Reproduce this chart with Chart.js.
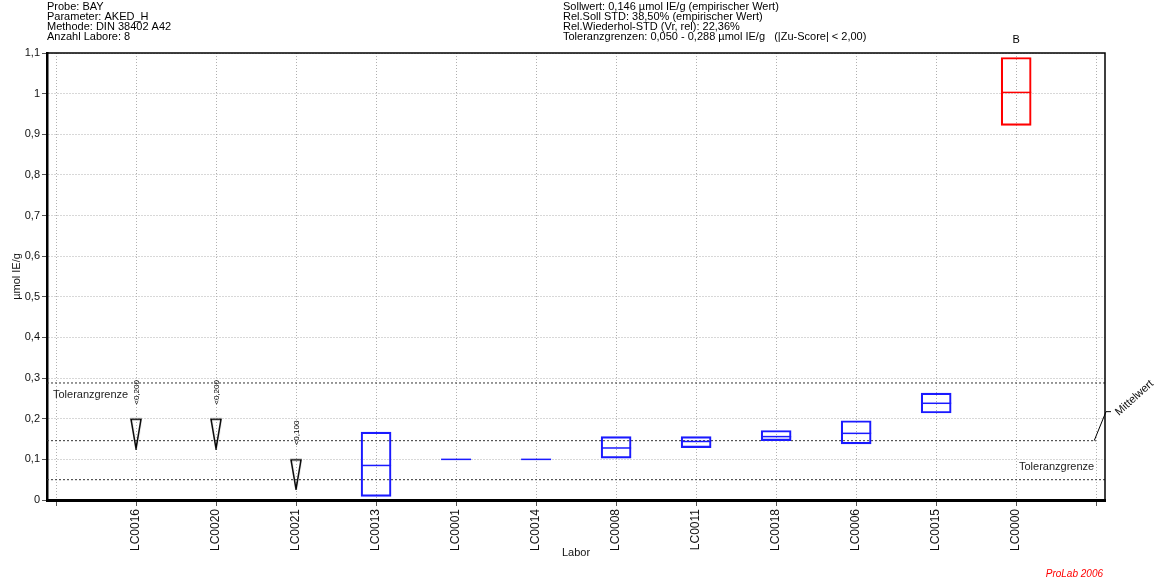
<!DOCTYPE html>
<html>
<head>
<meta charset="utf-8">
<script src="https://cdn.jsdelivr.net/npm/chart.js@4.4.0/dist/chart.umd.min.js"></script>
<style>
  html, body { margin: 0; padding: 0; background: #fff; }
</style>
</head>
<body>
<canvas id="chart" width="1164" height="584"></canvas>
<script>
// labs in plot order
const labs = ['LC0016', 'LC0020', 'LC0021', 'LC0013', 'LC0001', 'LC0014', 'LC0008', 'LC0011', 'LC0018', 'LC0006', 'LC0015', 'LC0000'];
const boxLow  = [null, null, null, 0.009, null, null, 0.103, 0.129, 0.146, 0.138, 0.214, 0.922];
const boxHigh = [null, null, null, 0.167, null, null, 0.156, 0.156, 0.171, 0.195, 0.263, 1.089];
const medians = [null, null, null, 0.085, 0.100, 0.100, 0.128, 0.144, 0.156, 0.164, 0.238, 1.003];
// "< x" results (below detection limit)
const limits = [0.200, 0.200, 0.100, null, null, null, null, null, null, null, null, null];
const outliers = ['LC0000'];

const sollwert = 0.146;
const tolLow = 0.050;
const tolHigh = 0.288;

const headerLeft = ['Probe: BAY', 'Parameter: AKED_H', 'Methode: DIN 38402 A42', 'Anzahl Labore: 8'];
const headerRight = [
  'Sollwert: 0,146 µmol IE/g (empirischer Wert)',
  'Rel.Soll STD: 38,50% (empirischer Wert)',
  'Rel.Wiederhol-STD (Vr, rel): 22,36%',
  'Toleranzgrenzen: 0,050 - 0,288 µmol IE/g   (|Zu-Score| < 2,00)'
];

const X_MIN = -0.1125, X_MAX = 13.11;
const BLUE = '#1a1aff', RED = '#ff0000';
const fmt = v => String(v.toFixed(3)).replace('.', ',');

const colorOf = lab => outliers.includes(lab) ? RED : BLUE;

const boxIdx = labs.map((l, i) => i).filter(i => boxLow[i] != null);
const medIdx = labs.map((l, i) => i).filter(i => medians[i] != null);
const limIdx = labs.map((l, i) => i).filter(i => limits[i] != null);

// tall open triangle used as marker for "<" values, top edge sits on the value
const tri = document.createElement('canvas');
tri.width = 12; tri.height = 62;
const tc = tri.getContext('2d');
tc.strokeStyle = '#000'; tc.lineWidth = 1.5;
tc.beginPath(); tc.moveTo(1, 31.5); tc.lineTo(11, 31.5); tc.lineTo(6, 61); tc.closePath(); tc.stroke();

Chart.defaults.font.family = '"Liberation Sans", Arial, sans-serif';
Chart.defaults.font.size = 11;
Chart.defaults.color = '#111';

const extras = {
  id: 'extras',
  afterDraw(chart) {
    const { ctx, chartArea: a, scales: { x, y } } = chart;
    ctx.save();
    // top + right frame
    ctx.strokeStyle = '#000'; ctx.lineWidth = 1.5;
    ctx.beginPath();
    ctx.moveTo(a.left, a.top); ctx.lineTo(a.right, a.top); ctx.lineTo(a.right, a.bottom);
    ctx.stroke();

    ctx.fillStyle = '#000';
    ctx.font = '11px "Liberation Sans", Arial';
    ctx.textBaseline = 'middle';
    ctx.textAlign = 'left';
    headerLeft.forEach((t, i) => ctx.fillText(t, 47, 6.5 + i * 10));
    headerRight.forEach((t, i) => ctx.fillText(t, 563, 6.5 + i * 10));

    // tolerance labels
    ctx.fillStyle = '#222';
    ctx.fillText('Toleranzgrenze', a.left + 6, y.getPixelForValue(tolHigh) + 12);
    ctx.textAlign = 'right';
    ctx.fillText('Toleranzgrenze', x.getPixelForValue(13) - 2, y.getPixelForValue(tolLow) - 13);

    // B marker above outlier
    ctx.textAlign = 'center';
    ctx.fillStyle = '#000';
    outliers.forEach(lab => {
      ctx.fillText('B', x.getPixelForValue(labs.indexOf(lab) + 1), a.top - 13);
    });

    // "<" value labels
    ctx.font = '8px "Liberation Sans", Arial';
    ctx.textAlign = 'left';
    limIdx.forEach(i => {
      ctx.save();
      ctx.translate(x.getPixelForValue(i + 1) + 1, y.getPixelForValue(limits[i]) - 14);
      ctx.rotate(-Math.PI / 2);
      ctx.fillText('<' + fmt(limits[i]), 0, 0);
      ctx.restore();
    });

    // Mittelwert leader
    const ym = y.getPixelForValue(sollwert);
    const x13 = x.getPixelForValue(13);
    ctx.strokeStyle = '#000'; ctx.lineWidth = 1;
    ctx.beginPath();
    ctx.moveTo(x13 - 2, ym);
    ctx.lineTo(a.right + 1, ym - 29);
    ctx.lineTo(a.right + 6, ym - 29);
    ctx.stroke();
    ctx.save();
    ctx.font = '11px "Liberation Sans", Arial';
    ctx.translate(a.right + 12, ym - 27);
    ctx.rotate(-42 * Math.PI / 180);
    ctx.fillStyle = '#111';
    ctx.fillText('Mittelwert', 0, 0);
    ctx.restore();

    ctx.font = 'italic 10px "Liberation Sans", Arial';
    ctx.fillStyle = RED;
    ctx.textAlign = 'right';
    ctx.fillText('ProLab 2006', 1103, 574);
    ctx.restore();
  }
};

const refLine = (val, xEnd) => ({
  type: 'line',
  data: [{ x: X_MIN, y: val }, { x: xEnd, y: val }],
  borderColor: '#333',
  borderWidth: 1,
  borderDash: [2, 2],
  pointRadius: 0,
  order: 5
});

new Chart(document.getElementById('chart'), {
  type: 'bar',
  data: {
    datasets: [
      {
        type: 'bar',
        data: boxIdx.map(i => ({ x: i + 1, y: [boxLow[i], boxHigh[i]] })),
        backgroundColor: 'rgba(0,0,0,0)',
        borderColor: boxIdx.map(i => colorOf(labs[i])),
        borderWidth: 1.5,
        borderSkipped: false,
        barThickness: 30,
        order: 1
      },
      {
        type: 'scatter',
        data: medIdx.map(i => ({ x: i + 1, y: medians[i] })),
        pointStyle: 'line',
        pointRadius: 15,
        pointBorderWidth: 1.5,
        pointBorderColor: medIdx.map(i => colorOf(labs[i])),
        order: 0
      },
      {
        type: 'scatter',
        data: limIdx.map(i => ({ x: i + 1, y: limits[i] })),
        pointStyle: tri,
        order: 0
      },
      refLine(tolHigh, X_MAX),
      refLine(sollwert, 13),
      refLine(tolLow, X_MAX)
    ]
  },
  options: {
    responsive: false,
    animation: false,
    devicePixelRatio: 1,
    layout: { padding: { top: 53, right: 59, bottom: 20, left: 0 } },
    plugins: { legend: { display: false }, tooltip: { enabled: false } },
    scales: {
      x: {
        type: 'linear',
        min: X_MIN,
        max: X_MAX,
        offset: false,
        afterFit: s => { s.height = 64; },
        ticks: {
          stepSize: 1,
          includeBounds: false,
          autoSkip: false,
          minRotation: 90,
          maxRotation: 90,
          padding: 3,
          font: { size: 12 },
          color: '#111',
          callback: v => labs[Math.round(v) - 1] || ''
        },
        grid: { offset: false, color: '#b0b0b0', tickLength: 6, tickColor: '#555', tickBorderDash: [] },
        border: { color: '#000', width: 3, dash: [1, 2] },
        title: { display: true, text: 'Labor', font: { size: 11 }, color: '#111' }
      },
      y: {
        min: 0,
        max: 1.1,
        afterFit: s => { s.width = 47; },
        ticks: {
          stepSize: 0.1,
          padding: 2,
          color: '#111',
          callback: v => String(Math.round(v * 10) / 10).replace('.', ',')
        },
        grid: { color: '#b0b0b0', tickLength: 5, tickColor: '#555', tickBorderDash: [] },
        border: { color: '#000', width: 2.5, dash: [1, 2] },
        title: { display: true, text: 'µmol IE/g', font: { size: 11 }, color: '#111', padding: { top: 10, bottom: 0 } }
      }
    }
  },
  plugins: [extras]
});
</script>
</body>
</html>
